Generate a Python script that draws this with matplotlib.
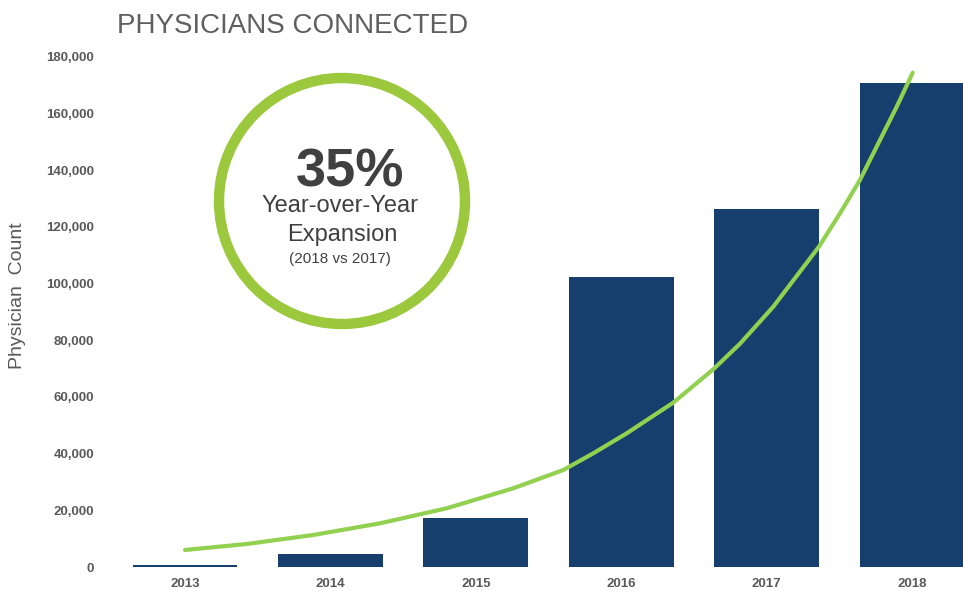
import matplotlib.pyplot as plt
from matplotlib.patches import Ellipse
from matplotlib.ticker import FuncFormatter

years = [2013, 2014, 2015, 2016, 2017, 2018]
physicians = [600, 4600, 17200, 102400, 126400, 170900]

# trend curve (year position, count)
curve_x = [2013.000, 2013.424, 2013.882, 2014.341, 2014.800, 2015.258, 2015.602,
           2015.808, 2016.038, 2016.358, 2016.634, 2016.817, 2017.046, 2017.360,
           2017.505, 2017.642, 2017.780, 2017.895, 2018.005]
curve_y = [6000, 8120, 11290, 15420, 20720, 27780, 34240,
           40130, 47190, 58000, 69800, 78800, 91870, 113050,
           124840, 136600, 150710, 162460, 174460]

plt.rcParams['font.family'] = ['Liberation Sans', 'DejaVu Sans']

fig = plt.figure(figsize=(9.63, 5.91), dpi=100)
ax = fig.add_axes([0.1166, 0.0406, 0.8833, 0.863])

ax.bar(years, physicians, width=0.72, color='#163f6e', zorder=2)
ax.plot(curve_x, curve_y, color='#92d050', linewidth=3.0,
        solid_capstyle='round', solid_joinstyle='round', zorder=3)

ax.set_xlim(2012.5, 2018.35)
ax.set_ylim(0, 180000)
ax.set_yticks(range(0, 180001, 20000))
ax.yaxis.set_major_formatter(FuncFormatter(lambda v, p: f"{int(v):,}"))
ax.set_xticks(years)
ax.tick_params(length=0, labelsize=9.5, labelcolor='#595959')
ax.tick_params(axis='y', pad=13)
ax.tick_params(axis='x', pad=8)
for lbl in ax.get_xticklabels() + ax.get_yticklabels():
    lbl.set_fontweight('bold')
for s in ax.spines.values():
    s.set_visible(False)

fig.text(18 / 963, 1 - 296 / 591, 'Physician  Count', rotation=90, ha='center',
         va='center', fontsize=14, color='#595959')
fig.text(117 / 963, 1 - 33 / 591, 'PHYSICIANS CONNECTED', ha='left',
         va='baseline', fontsize=20, color='#5f5f5f')

# highlight circle
cx, cy, r = 342, 201, 123
ring = Ellipse((cx / 963, 1 - cy / 591), 2 * r / 963, 2 * r / 591,
               transform=fig.transFigure, facecolor='none',
               edgecolor='#9bc83d', linewidth=7.5, zorder=5)
fig.add_artist(ring)
fig.text(350 / 963, 1 - 186 / 591, '35%', ha='center', va='baseline',
         fontsize=39, fontweight='bold', color='#404040')
fig.text(340 / 963, 1 - 212 / 591, 'Year-over-Year', ha='center',
         va='baseline', fontsize=17, color='#404040')
fig.text(342 / 963, 1 - 241 / 591, 'Expansion', ha='center',
         va='baseline', fontsize=17, color='#404040')
fig.text(340 / 963, 1 - 263 / 591, '(2018 vs 2017)', ha='center',
         va='baseline', fontsize=11, color='#404040')

fig.savefig('out.png', dpi=100)
